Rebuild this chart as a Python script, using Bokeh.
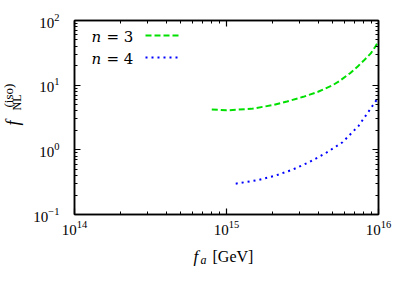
import math
from bokeh.plotting import figure
from bokeh.layouts import row, column
from bokeh.models import Label, Arrow, LogAxis, LogTicker, Range1d
from bokeh.embed import file_html
from bokeh.resources import INLINE

# ---- data ----
fa_n3 = [0.8e15, 1.0e15, 1.45e15, 2.0e15, 2.5e15, 3.2e15, 4.0e15, 5.0e15,
         5.6e15, 6.5e15, 7.3e15, 8.0e15, 8.9e15, 9.5e15, 1.0e16]
fnl_n3 = [4.2, 4.08, 4.3, 4.9, 5.6, 6.6, 7.9, 10.0, 11.8, 15.3, 19.5, 24.0, 31.0, 39.0, 48.0]

fa_n4 = [1.15e15, 1.6e15, 2.1e15, 2.7e15, 3.5e15, 4.5e15, 5.8e15, 7.4e15,
         8.6e15, 9.3e15, 1.0e16]
fnl_n4 = [0.30, 0.34, 0.40, 0.49, 0.645, 0.89, 1.31, 2.35, 3.9, 5.1, 6.5]

x_ticks = [1e14, 1e15, 1e16]          # shown as 10^14, 10^15, 10^16
y_ticks = [0.1, 1.0, 10.0, 100.0]     # shown as 10^-1 ... 10^2

series_nums = ["3", "4"]
series_colors = ["#00e000", "#0000ff"]
series_dash = ["6 3", "2 4"]

SERIF = "Liberation Serif"
YLAB_W = 30
MAIN_H = 246
TOTAL_W = 409
TOTAL_H = 286

p = figure(width=TOTAL_W - YLAB_W, height=MAIN_H, x_axis_type="log", y_axis_type="log",
           x_range=Range1d(x_ticks[0], x_ticks[-1]), y_range=Range1d(y_ticks[0], y_ticks[-1]),
           output_backend="svg", toolbar_location=None,
           min_border_left=73 - YLAB_W, min_border_right=31,
           min_border_top=20, min_border_bottom=32)
p.grid.visible = False
p.outline_line_color = "black"
p.outline_line_width = 1.5
p.border_fill_color = "white"


def style_axis(ax, show_labels):
    ax.ticker = LogTicker(num_minor_ticks=10)
    ax.axis_line_color = "black"
    ax.axis_line_width = 1.5
    ax.major_tick_in = 6
    ax.major_tick_out = 0
    ax.minor_tick_in = 3
    ax.minor_tick_out = 0
    ax.major_tick_line_color = "black"
    ax.minor_tick_line_color = "black"
    ax.major_tick_line_width = 1.2
    ax.minor_tick_line_width = 1.0
    ax.major_label_text_font = SERIF
    ax.major_label_text_font_size = "15px"
    ax.major_label_text_color = "black"
    if not show_labels:
        ax.major_label_text_font_size = "6px"
        ax.major_label_text_alpha = 0
        ax.major_label_standoff = 0


style_axis(p.xaxis[0], True)
style_axis(p.yaxis[0], True)
p.xaxis[0].major_label_standoff = 6
p.yaxis[0].major_label_standoff = 15

top = LogAxis()
right = LogAxis()
style_axis(top, False)
style_axis(right, False)
p.add_layout(top, "above")
p.add_layout(right, "right")

# ---- curves ----
for xs, ys, c, d in zip([fa_n3, fa_n4], [fnl_n3, fnl_n4], series_colors, series_dash):
    p.line(xs, ys, line_color=c, line_width=2, line_dash=d)

# ---- legend: text on the left, sample line on the right ----
leg_text_y = [178, 156]
leg_line_y = [179, 157]
for num, c, d, ty, ly in zip(series_nums, series_colors, series_dash, leg_text_y, leg_line_y):
    p.add_layout(Label(x=17, y=ty, x_units="screen", y_units="screen", text="n",
                       text_font="DejaVu Serif", text_font_style="italic",
                       text_font_size="15px", text_color="black",
                       text_baseline="alphabetic", text_align="left"))
    p.add_layout(Label(x=32, y=ty, x_units="screen", y_units="screen",
                       text="= " + num, text_font="DejaVu Serif",
                       text_font_size="15px", text_color="black",
                       text_baseline="alphabetic", text_align="left"))
    p.add_layout(Arrow(end=None, x_start=71, y_start=ly, x_end=106, y_end=ly,
                       start_units="screen", end_units="screen",
                       line_color=c, line_width=2, line_dash=d))


def text_fig(w, h):
    f = figure(width=w, height=h, x_range=Range1d(0, 1), y_range=Range1d(0, 1),
               output_backend="svg", toolbar_location=None,
               min_border=0, min_border_left=0, min_border_right=0,
               min_border_top=0, min_border_bottom=0)
    f.axis.visible = False
    f.grid.visible = False
    f.outline_line_color = None
    f.border_fill_color = "white"
    f.background_fill_color = "white"
    return f


def lab(f, x, y, text, size, italic=False, angle=0.0):
    f.add_layout(Label(x=x, y=y, x_units="screen", y_units="screen", text=text,
                       text_font=SERIF, text_font_size=size,
                       text_font_style="italic" if italic else "normal",
                       text_color="black", text_baseline="alphabetic",
                       text_align="left", angle=angle))


# y title: f_NL^(iso), rotated
ylab = text_fig(YLAB_W, MAIN_H)
a = math.pi / 2
lab(ylab, 12, 89, "f", "18px", italic=True, angle=a)
lab(ylab, 16, 104, "NL", "12px", angle=a)
lab(ylab, 8, 107, "(iso)", "13px", angle=a)

# x title: f_a [GeV]
xh = TOTAL_H - MAIN_H
xlab = text_fig(TOTAL_W, xh)
lab(xlab, 193, 30, "f", "17px", italic=True)
lab(xlab, 200, 27, "a", "12px", italic=True)
lab(xlab, 212, 30, "[GeV]", "16px")

layout = column(row(ylab, p, spacing=0), xlab, spacing=0)
open("out.html", "w").write(file_html(layout, INLINE))
